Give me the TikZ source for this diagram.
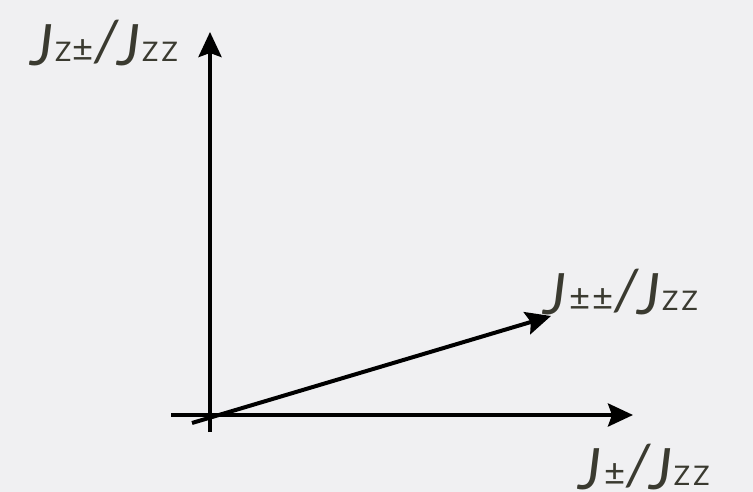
\documentclass[tikz,border=0pt]{standalone}
\usepackage{fontspec}
\setmainfont{Lato}
\usetikzlibrary{arrows.meta}
\definecolor{paper}{RGB}{240,240,242}
\definecolor{ink}{RGB}{58,58,48}
\newcommand{\pmsign}{\kern1pt\scalebox{1.35}{±}\kern1pt}
\newcommand{\jsub}[1]{{\fontsize{27}{27}\selectfont\addfontfeature{LetterSpace=12}\kern2pt #1}}
\newcommand{\jlet}{\raisebox{-4pt}{\textit{J}}}
\newcommand{\jratio}[1]{\jlet\jsub{#1}\textit{/}\kern-2pt\jlet\jsub{ZZ}}
\begin{document}
\begin{tikzpicture}[x=1pt,y=-1pt,>={Stealth[length=25pt,width=23pt,inset=4pt]},
    axis/.style={line width=4pt,black},
    axislabel/.style={text=ink,font=\fontsize{57}{57}\selectfont,inner sep=0pt,anchor=base west}]
        \fill[paper] (0,0) rectangle (753,492);
        \useasboundingbox (0,0) rectangle (753,492);
        \coordinate (vbot) at (210,432);
        \coordinate (vtop) at (210,32);
        \coordinate (hleft) at (171,415);
        \coordinate (hright) at (633,415);
        \coordinate (dstart) at (192,423);
        \coordinate (dend) at (551,316);

        \draw[axis,->] (vbot) -- (vtop);
        \draw[axis,->] (hleft) -- (hright);
        \draw[axis,->] (dstart) -- (dend);

        \node (zlabel) [axislabel] at (30,62) {\jratio{Z\pmsign}};
        \node (dlabel) [axislabel] at (543,310) {\jratio{\pmsign\pmsign}};
        \node (xlabel) [axislabel] at (578,485) {\jratio{\pmsign}};
    \end{tikzpicture}
\end{document}
